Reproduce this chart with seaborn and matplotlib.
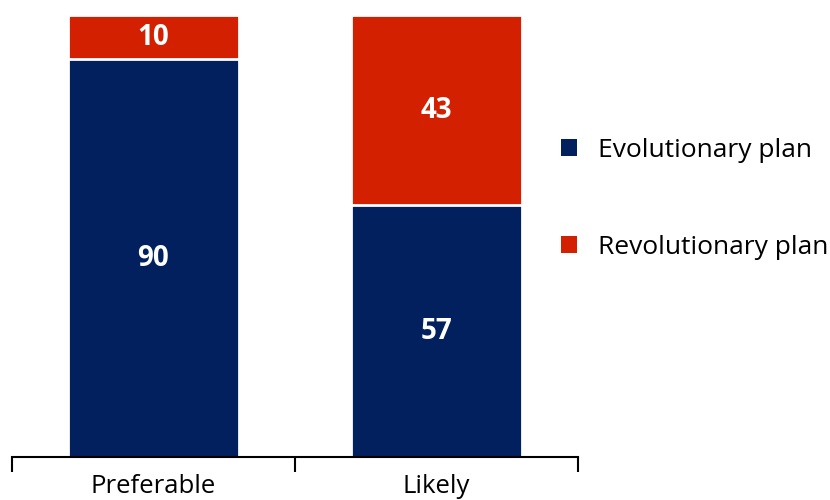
import matplotlib
matplotlib.use("Agg")
import matplotlib.pyplot as plt
import seaborn as sns
import pandas as pd
from matplotlib.patches import Patch

categories = ["Preferable", "Likely"]
evolutionary = [90, 57]
revolutionary = [10, 43]
series_names = ["Evolutionary plan", "Revolutionary plan"]

BLUE = "#02205E"
RED = "#D22000"

sns.set_theme(style="white")
plt.rcParams["font.family"] = ["Open Sans", "DejaVu Sans"]
plt.rcParams["text.color"] = "black"
plt.rcParams["xtick.color"] = "black"

df = pd.DataFrame({
    "category": categories,
    "evolutionary": evolutionary,
    "revolutionary": revolutionary,
})
df["total"] = df["evolutionary"] + df["revolutionary"]

fig = plt.figure(figsize=(8.3, 5.0), dpi=100)
ax = fig.add_axes([12 / 830, 43 / 500, 566 / 830, 442 / 500])

# stacked bars: total (red) underneath, evolutionary share (blue) on top of it
sns.barplot(data=df, x="category", y="total", color=RED, width=0.605,
            edgecolor="white", linewidth=2, saturation=1, ax=ax)
sns.barplot(data=df, x="category", y="evolutionary", color=BLUE, width=0.605,
            edgecolor="white", linewidth=2, saturation=1, ax=ax)

for i, (e, r) in enumerate(zip(evolutionary, revolutionary)):
    ax.text(i, e / 2, str(e), ha="center", va="center", color="white",
            fontsize=20, fontweight="bold")
    ax.text(i, e + r / 2, str(r), ha="center", va="center", color="white",
            fontsize=20, fontweight="bold")

ax.set_xlim(-0.5, 1.5)
ax.set_ylim(0, 100)
ax.set_xlabel("")
ax.set_ylabel("")
ax.set_yticks([])
for side in ["left", "right", "top"]:
    ax.spines[side].set_visible(False)
ax.spines["bottom"].set_color("black")
ax.spines["bottom"].set_linewidth(1.5)

# boundary ticks between categories, labels centred under bars
ax.set_xticks([-0.5, 0.5, 1.5])
ax.set_xticklabels([])
ax.set_xticks([0, 1], minor=True)
ax.set_xticklabels(categories, minor=True, fontsize=18.5)
ax.tick_params(axis="x", which="major", direction="out", length=11, width=1.5,
               color="black", bottom=True)
ax.tick_params(axis="x", which="minor", length=0, pad=12, labelcolor="black")

handles = [Patch(facecolor=BLUE, edgecolor="none"),
           Patch(facecolor=RED, edgecolor="none")]
fig.legend(handles, series_names, loc="center left",
           bbox_to_anchor=(561 / 830, 1 - 199 / 500), frameon=False,
           fontsize=19, handlelength=0.6, handleheight=0.6,
           handletextpad=0.8, labelspacing=2.73, borderpad=0,
           borderaxespad=0)

fig.savefig("out.png", dpi=100)
